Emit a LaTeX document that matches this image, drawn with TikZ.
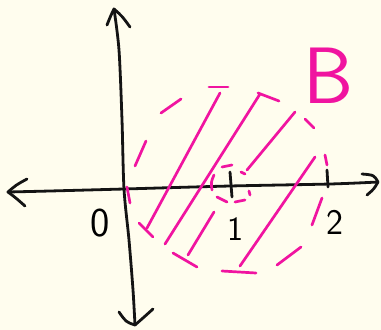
\documentclass[tikz,border=0pt]{standalone}
\definecolor{cream}{RGB}{255,253,238}
\definecolor{pinkB}{RGB}{240,20,160}
\begin{document}
\begin{tikzpicture}[x=1pt,y=-1pt,line cap=round,line join=round,
  axis/.style={line width=2.8pt,draw=black!92},
  pen/.style={line width=2.7pt,draw=pinkB},
  lbl/.style={inner sep=0pt,font=\sffamily\fontsize{#1}{#1}\selectfont}]
\fill[cream] (0,0) rectangle (381,330);
\useasboundingbox (0,0) rectangle (381,330);
% axes
\draw[axis] plot[smooth] coordinates {(8,192) (50,191) (124,189) (230,186) (330,184) (378,182)};
\draw[axis] (27,179) .. controls (16,185) .. (8,192) .. controls (16,198) .. (25,206);
\draw[axis] (362,174) .. controls (374,175) .. (378,182) .. controls (374,189) .. (367,195);
\draw[axis] plot[smooth] coordinates {(114,9) (119,50) (122,120) (124,189) (129,240) (133,290) (135,325)};
\draw[axis] (107,25) .. controls (111,15) .. (114,9) .. controls (122,16) .. (130,27);
\draw[axis] (119,312) .. controls (126,322) .. (135,325) .. controls (143,318) .. (153,309);
% ticks
\draw[axis] (230,172) -- (232,197);
\draw[axis] (327,170) -- (328,187);
% labels
\node[lbl=41] (zero) at (100,223) {0};
\node[lbl=34] (one) at (235,229) {1};
\node[lbl=36] (two) at (335,222) {2};
\node[lbl=80,text=pinkB] (setB) at (329,76) {B};
% big dashed circle
\draw[pen] (161,113) -- (181,99);
\draw[pen] (209,87) -- (228,87);
\draw[pen] (258,93) -- (279,101);
\draw[pen] (305,119) -- (314,128);
\draw[pen] (325,155) -- (327,165);
\draw[pen] (322,198) -- (312,225);
\draw[pen] (301,247) -- (277,265);
\draw[pen] (256,273) -- (222,271);
\draw[pen] (197,267) -- (173,253);
\draw[pen] (153,237) -- (139,223);
\draw[pen] (130,203) -- (127,187);
\draw[pen] (135,166) -- (146,141);
% small dashed circle
\draw[pen] (222,167) -- (232,165);
\draw[pen] (214,175) .. controls (211,182) .. (212,190);
\draw[pen] (217,197) -- (227,202);
\draw[pen] (235,202) -- (245,200);
\draw[pen] (249,191) -- (250,195);
\draw[pen] (241,172) -- (245,174);
% hatching
\draw[pen] (220,93) -- (147,228);
\draw[pen] (260,94) -- (165,244);
\draw[pen] (295,112) -- (247,170);
\draw[pen] (214,212) -- (188,255);
\draw[pen] (315,157) -- (240,266);
\end{tikzpicture}
\end{document}
